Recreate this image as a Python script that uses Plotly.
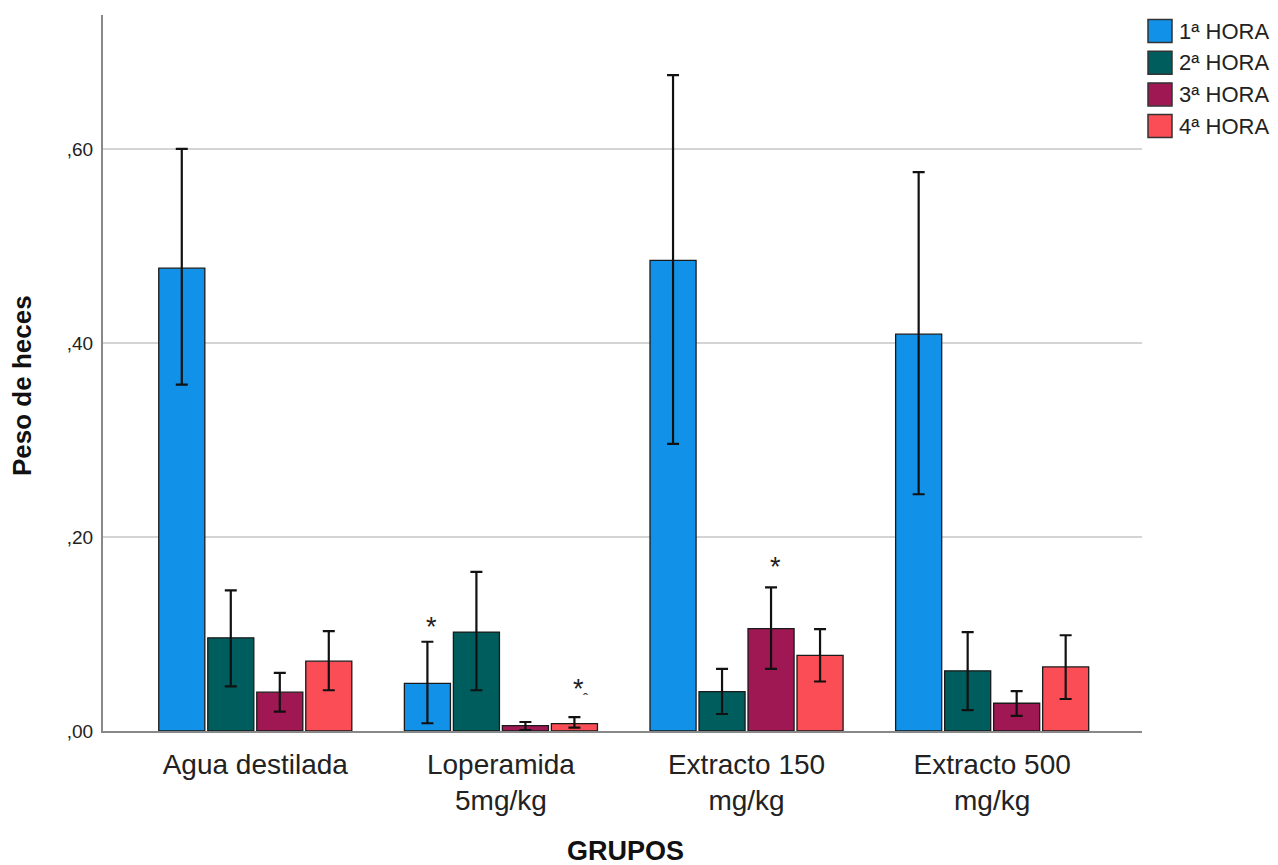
import plotly.graph_objects as go

# ---------------- data ----------------
categories = ["Agua destilada", "Loperamida<br>5mg/kg", "Extracto 150<br>mg/kg", "Extracto 500<br>mg/kg"]
series_names = ["1ª HORA", "2ª HORA", "3ª HORA", "4ª HORA"]

hora1 = [0.477, 0.049, 0.485, 0.409]
hora1_hi = [0.600, 0.092, 0.676, 0.576]
hora1_lo = [0.357, 0.008, 0.296, 0.244]

hora2 = [0.096, 0.102, 0.0405, 0.062]
hora2_hi = [0.145, 0.164, 0.064, 0.102]
hora2_lo = [0.046, 0.042, 0.0175, 0.0216]

hora3 = [0.040, 0.0055, 0.1055, 0.0286]
hora3_hi = [0.060, 0.0093, 0.148, 0.041]
hora3_lo = [0.020, 0.001, 0.064, 0.0155]

hora4 = [0.072, 0.0075, 0.078, 0.066]
hora4_hi = [0.103, 0.0144, 0.105, 0.0987]
hora4_lo = [0.042, 0.0034, 0.051, 0.033]

y_tickvals = [0.0, 0.2, 0.4, 0.6]
y_ticktext = [",00", ",20", ",40", ",60"]

# significance marks: (category index, series index, y of the asterisk)
star_cat = [1, 1, 2]
star_ser = [0, 3, 2]
star_y = [0.114, 0.051, 0.176]

# ---------------- style ----------------
colors = ["#1192e8", "#005d5d", "#9f1853", "#fa4d56"]
FONT = "Liberation Sans, Arial, sans-serif"
W, H = 1278, 865
ML, MR, MT, MB = 103, 136, 15, 134
XR = [-0.62, 3.61]
YR = [0, 0.738]
BARGAP = 0.202
GROUPGAP = 0.06

values = [hora1, hora2, hora3, hora4]
his = [hora1_hi, hora2_hi, hora3_hi, hora4_hi]
los = [hora1_lo, hora2_lo, hora3_lo, hora4_lo]

fig = go.Figure()
for name, v, hi, lo, c in zip(series_names, values, his, los, colors):
    fig.add_trace(go.Bar(
        x=categories, y=v, name=name,
        marker=dict(color=c, line=dict(color="#1a1a1a", width=1.3)),
        error_y=dict(type="data", symmetric=False,
                     array=[h - a for h, a in zip(hi, v)],
                     arrayminus=[a - l for a, l in zip(v, lo)],
                     color="#111111", thickness=2.2, width=6),
        showlegend=False,
    ))

# asterisks, positioned through the category axis with a per-series offset
cat_px = (W - ML - MR) / (XR[1] - XR[0])
slot_px = (1 - BARGAP) * cat_px / len(series_names)
for ci, si, yy in zip(star_cat, star_ser, star_y):
    fig.add_annotation(x=categories[ci], y=yy, xref="x", yref="y", text="*",
                       showarrow=False, font=dict(family=FONT, size=27, color="#222"),
                       xshift=(si - (len(series_names) - 1) / 2) * slot_px + 4,
                       yshift=-7, yanchor="middle")
# small caret mark beside the Loperamida 4ª HORA asterisk
fig.add_annotation(x=categories[1], y=star_y[1], xref="x", yref="y", text="ˆ",
                   showarrow=False, font=dict(family=FONT, size=15, color="#222"),
                   xshift=(3 - 1.5) * slot_px + 11, yshift=-17, yanchor="middle")

# custom legend (large swatches like the original)
for i, (name, c) in enumerate(zip(series_names, colors)):
    cy = -(16 + 31.7 * i)
    fig.add_shape(type="rect", xref="paper", yref="paper",
                  xsizemode="pixel", ysizemode="pixel", xanchor=1, yanchor=1,
                  x0=6, x1=30, y0=cy - 11.5, y1=cy + 11.5,
                  fillcolor=c, line=dict(color="#333", width=1.5))
    fig.add_annotation(xref="paper", yref="paper", x=1, y=1, xshift=35, yshift=cy,
                       xanchor="left", yanchor="middle", text=name, showarrow=False,
                       font=dict(family=FONT, size=22, color="#222"))

# axis titles
fig.add_annotation(xref="paper", yref="paper", x=(22 - ML) / (W - ML - MR),
                   y=(H - MB - 386) / (H - MB - MT), text="<b>Peso de heces</b>",
                   textangle=-90, showarrow=False, xanchor="center", yanchor="middle",
                   font=dict(family=FONT, size=26, color="#111"))
fig.add_annotation(xref="paper", yref="paper", x=(625 - ML) / (W - ML - MR),
                   y=(H - MB - 851) / (H - MB - MT), text="<b>GRUPOS</b>",
                   showarrow=False, xanchor="center", yanchor="middle",
                   font=dict(family=FONT, size=27, color="#111"))

fig.update_layout(
    width=W, height=H,
    margin=dict(l=ML, r=MR, t=MT, b=MB, autoexpand=False),
    paper_bgcolor="white", plot_bgcolor="white",
    barmode="group", bargap=BARGAP, bargroupgap=GROUPGAP,
    showlegend=False,
    font=dict(family=FONT, color="#222"),
)
fig.update_xaxes(range=XR, showline=True, linecolor="#888", linewidth=2,
                 showgrid=False, ticks="", tickfont=dict(family=FONT, size=28, color="#222"),
                 ticklabelstandoff=7)
fig.update_yaxes(range=YR, showline=True, linecolor="#888", linewidth=2,
                 showgrid=True, gridcolor="#d4d4d4", gridwidth=2, zeroline=False,
                 tickvals=y_tickvals, ticktext=y_ticktext, ticks="",
                 tickfont=dict(family=FONT, size=19, color="#222"),
                 ticklabelstandoff=4)

fig.write_html("out.html")
